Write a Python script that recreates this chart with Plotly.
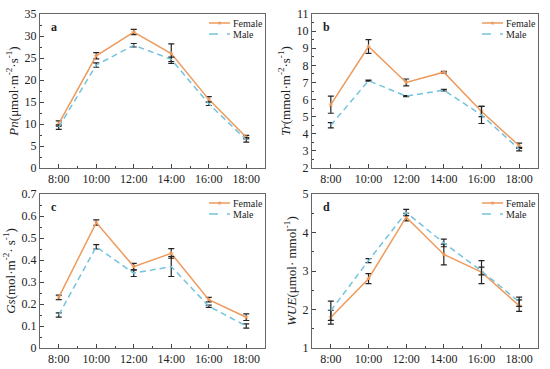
import plotly.graph_objects as go

times = ["8:00", "10:00", "12:00", "14:00", "16:00", "18:00"]

pn_female = [10.1, 25.5, 30.9, 26.0, 15.6, 7.0]
pn_female_err = [0.6, 0.7, 0.6, 2.2, 0.6, 0.4]
pn_male = [9.3, 23.4, 27.9, 24.7, 14.6, 6.4]
pn_male_err = [0.5, 0.5, 0.4, 0.5, 0.4, 0.5]

tr_female = [5.7, 9.1, 7.0, 7.6, 5.3, 3.3]
tr_female_err = [0.5, 0.4, 0.2, 0.05, 0.3, 0.15]
tr_male = [4.5, 7.1, 6.2, 6.55, 5.1, 3.1]
tr_male_err = [0.15, 0.03, 0.03, 0.05, 0.5, 0.1]

gs_female = [0.23, 0.57, 0.37, 0.43, 0.22, 0.14]
gs_female_err = [0.01, 0.012, 0.015, 0.022, 0.01, 0.015]
gs_male = [0.15, 0.46, 0.34, 0.37, 0.19, 0.10]
gs_male_err = [0.01, 0.01, 0.015, 0.045, 0.005, 0.01]

wue_female = [1.8, 2.8, 4.4, 3.43, 2.97, 2.1]
wue_female_err = [0.18, 0.13, 0.1, 0.27, 0.3, 0.15]
wue_male = [1.97, 3.27, 4.52, 3.73, 3.0, 2.2]
wue_male_err = [0.25, 0.05, 0.08, 0.1, 0.1, 0.12]

series_names = ["Female", "Male"]

FEMALE_COLOR = "#EE9A5C"
MALE_COLOR = "#74C3DD"
SERIF = "Liberation Serif, Times New Roman, serif"
TXT = "#222"

W, H = 550, 369
panels = [
    dict(letter="a", fem=pn_female, fe=pn_female_err, mal=pn_male, me=pn_male_err,
         yr=[0, 35], dt=5, title="<i>Pn</i>(μmol·m<sup>-2</sup>·s<sup>-1</sup>)",
         px=(40, 265), py=(14, 168)),
    dict(letter="b", fem=tr_female, fe=tr_female_err, mal=tr_male, me=tr_male_err,
         yr=[2, 11], dt=1, title="<i>Tr</i>(mmol·m<sup>-2</sup>·s<sup>-1</sup>)",
         px=(312, 538), py=(14, 168)),
    dict(letter="c", fem=gs_female, fe=gs_female_err, mal=gs_male, me=gs_male_err,
         yr=[0, 0.7], dt=0.1, title="<i>Gs</i>(mol·m<sup>-2</sup>· s<sup>-1</sup>)",
         px=(40, 265), py=(194, 348)),
    dict(letter="d", fem=wue_female, fe=wue_female_err, mal=wue_male, me=wue_male_err,
         yr=[1, 5], dt=1, title="<i>WUE</i>(μmol· mmol<sup>-1</sup>)",
         px=(312, 538), py=(194, 348)),
]

xs = list(range(len(times)))
fig = go.Figure()
layout = dict(
    width=W, height=H, margin=dict(l=0, r=0, t=0, b=0, autoexpand=False),
    paper_bgcolor="white", plot_bgcolor="white", showlegend=False,
    font=dict(family=SERIF, size=12, color=TXT),
)
annotations = []
shapes = []
for i, p in enumerate(panels):
    n = "" if i == 0 else str(i + 1)
    xa, ya = "x" + n, "y" + n
    fig.add_trace(go.Scatter(
        x=xs, y=p["fem"], name=series_names[0], mode="lines+markers",
        line=dict(color=FEMALE_COLOR, width=1.5),
        marker=dict(color=FEMALE_COLOR, size=4, symbol="star"),
        error_y=dict(type="data", array=p["fe"], color=TXT, thickness=1.2, width=3),
        xaxis=xa, yaxis=ya))
    fig.add_trace(go.Scatter(
        x=xs, y=p["mal"], name=series_names[1], mode="lines",
        line=dict(color=MALE_COLOR, width=1.5, dash="6px,4px"),
        error_y=dict(type="data", array=p["me"], color=TXT, thickness=1.2, width=3),
        xaxis=xa, yaxis=ya))
    x0, x1 = p["px"][0] / W, p["px"][1] / W
    y1, y0 = 1 - p["py"][0] / H, 1 - p["py"][1] / H
    axis_common = dict(
        showline=True, linecolor="#666", linewidth=1, mirror=True, automargin=False,
        ticks="inside", ticklen=4, tickcolor="#444", showgrid=False, zeroline=False,
        tickfont=dict(family=SERIF, size=12, color=TXT),
    )
    layout["xaxis" + n] = dict(
        domain=[x0, x1], anchor=ya, range=[-0.5, 5.5],
        tickmode="array", tickvals=xs, ticktext=times,
        minor=dict(ticks="inside", ticklen=2, tickvals=[k + 0.5 for k in xs], tickcolor="#444"),
        **axis_common)
    layout["yaxis" + n] = dict(
        domain=[y0, y1], anchor=xa, range=p["yr"], dtick=p["dt"], tick0=p["yr"][0],
        minor=dict(ticks="inside", ticklen=2, dtick=p["dt"] / 2, tickcolor="#444"),
        title=dict(text=p["title"], font=dict(family=SERIF, size=13, color=TXT), standoff=3),
        **axis_common)
    # legend (manual, compact) in the panel's top-right corner
    rx, ty = p["px"][1], p["py"][0]
    for k, (col, dash) in enumerate([(FEMALE_COLOR, "solid"), (MALE_COLOR, "dash")]):
        yy = 1 - (ty + 9 + 11 * k) / H
        shapes.append(dict(type="line", xref="paper", yref="paper",
                           x0=(rx - 56) / W, x1=(rx - 35) / W, y0=yy, y1=yy,
                           line=dict(color=col, width=1.5, dash=dash)))
        annotations.append(dict(
            x=(rx - 34) / W, y=yy, xref="paper", yref="paper", xanchor="left", yanchor="middle",
            text=series_names[k], showarrow=False, height=10,
            font=dict(family=SERIF, size=10, color=TXT)))
    yy = 1 - (ty + 9) / H
    annotations.append(dict(
        x=(rx - 45.5) / W, y=yy, xref="paper", yref="paper", xanchor="center", yanchor="middle",
        text="★", showarrow=False, height=6,
        font=dict(size=6, color=FEMALE_COLOR)))
    annotations.append(dict(
        x=(p["px"][0] + 9) / W, y=1 - (ty + 4) / H, xref="paper", yref="paper",
        xanchor="left", yanchor="top",
        text="<b>%s</b>" % p["letter"], showarrow=False,
        font=dict(family=SERIF, size=12, color=TXT)))
layout["annotations"] = annotations
layout["shapes"] = shapes
fig.update_layout(**layout)
fig.write_html("out.html", config={"displayModeBar": False},
               post_script="document.body.style.margin='0';document.body.style.overflow='hidden';")
